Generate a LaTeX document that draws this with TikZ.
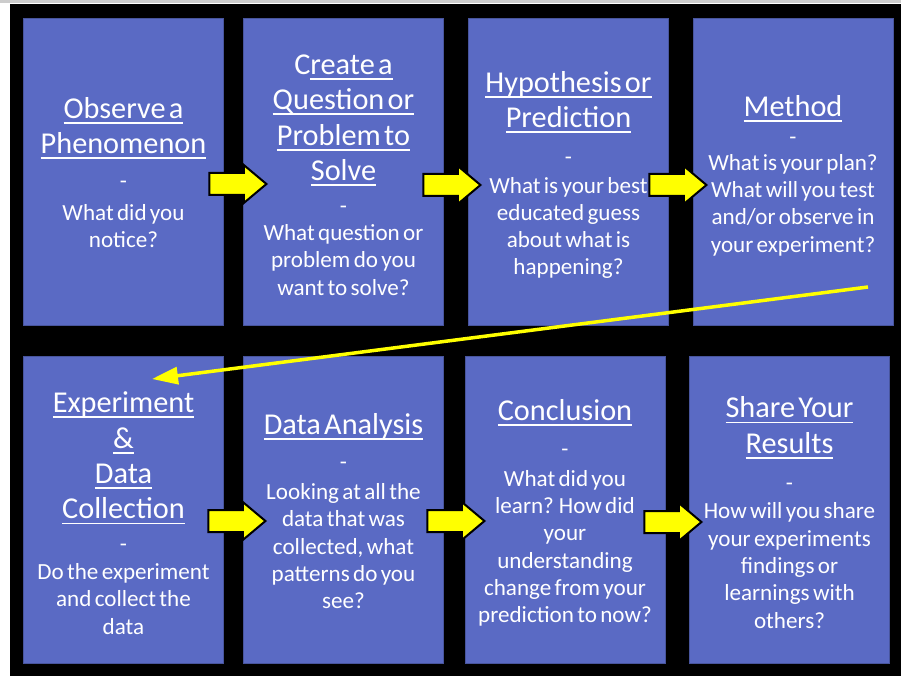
\documentclass[tikz,border=0pt]{standalone}
\usepackage{fontspec}
\setmainfont{Carlito}
\usetikzlibrary{arrows.meta,shapes.arrows}

\definecolor{cardblue}{RGB}{90,106,196}
\definecolor{arrowyellow}{RGB}{255,255,0}

\newcommand{\titlefont}{\fontsize{30.3}{35.4}\selectfont}
\newcommand{\bodyfont}{\fontsize{23.1}{27.3}\selectfont}

% underline at a fixed depth
\newsavebox{\ulinebox}
\newcommand{\ulined}[1]{\leavevmode\sbox{\ulinebox}{#1}\rlap{\rule[-5.5pt]{\wd\ulinebox}{1.8pt}}\usebox{\ulinebox}}

% [gap above dash][gap below dash]{title}{question}
\NewDocumentCommand{\cardtext}{O{8.5pt} O{2.5pt} m m}{%
  {\titlefont #3\par}\vspace{#1}{\bodyfont -\par}\vspace{#2}{\bodyfont #4\par}}

\begin{document}
\begin{tikzpicture}[x=1pt,y=-1pt,
  card/.style={rectangle, fill=cardblue, draw=cardblue!80!black, line width=0.6pt,
    minimum width=200pt, minimum height=307pt, inner sep=0pt},
  cardlabel/.style={inner sep=0pt, text width=190pt, align=center, text=white},
  steparrow/.style={single arrow, fill=arrowyellow, draw=black, line width=2pt,
    minimum height=57pt, inner xsep=0pt, inner ysep=10pt, single arrow head extend=8pt,
    single arrow tip angle=80, anchor=tip},
  looparrow/.style={arrowyellow, line width=3.5pt, -{Triangle[length=26pt,width=17pt]}}]

\useasboundingbox (0,0) rectangle (901,676);

%Background
\fill[white] (0,0) rectangle (901,676);
\fill[black!20] (0,0) rectangle (901,3);
\fill[black] (10,4) rectangle (901,676);

%Top row
\node[card] (observe) at (123.5,171.5) {};
\node[card] (question) at (343.5,171.5) {};
\node[card] (hypothesis) at (568.5,171.5) {};
\node[card] (method) at (793,171.5) {};

\node[cardlabel] (observe text) at ([yshift=-1pt]observe.center)
  {\cardtext[8pt][4.5pt]{\ulined{Observe a}\\\ulined{Phenomenon}}{What did you\\notice?}};
\node[cardlabel] (question text) at ([yshift=-3.5pt]question.center)
  {\cardtext[5.5pt][0pt]{C\ulined{reate a}\\\ulined{Question or}\\\ulined{Problem to}\\\ulined{Solve}}{What question or\\problem do you\\want to solve?}};
\node[cardlabel] (hypothesis text) at ([yshift=-3.5pt]hypothesis.center)
  {\cardtext[9.5pt][1.5pt]{\ulined{Hypothesis or}\\\ulined{Prediction}}{What is your best\\educated guess\\about what is\\happening?}};
\node[cardlabel] (method text) at ([yshift=-4pt]method.center)
  {\cardtext[1pt][-1.5pt]{\ulined{Method}}{What is your plan?\\What will you test\\and/or observe in\\your experiment?}};

%Bottom row
\node[card] (experiment) at (123.5,509.5) {};
\node[card] (analysis) at (343.5,509.5) {};
\node[card] (conclusion) at (565,509.5) {};
\node[card] (share) at (789.5,509.5) {};

\node[cardlabel] (experiment text) at ([yshift=-3.5pt]experiment.center)
  {\cardtext[5.5pt][0.5pt]{\ulined{Experiment}\\\ulined{\&}\\\ulined{Data}\\\ulined{Collection}}{Do the experiment\\and collect the\\data}};
\node[cardlabel] (analysis text) at ([yshift=-1.5pt]analysis.center)
  {\cardtext{\ulined{Data Analysis}}{Looking at all the\\data that was\\collected, what\\patterns do you\\see?}};
\node[cardlabel] (conclusion text) at ([yshift=-3.5pt]conclusion.center)
  {\cardtext{\ulined{Conclusion}}{What did you\\learn? How did\\your\\understanding\\change from your\\prediction to now?}};
\node[cardlabel] (share text) at ([yshift=-3pt]share.center)
  {\cardtext[9.5pt][1.5pt]{\ulined{Share Your}\\\ulined{Results}}{How will you share\\your experiments\\findings or\\learnings with\\others?}};

%Step arrows
\node[steparrow] (stepA) at (268,184) {};
\node[steparrow] (stepB) at (482,185) {};
\node[steparrow] (stepC) at (708,185) {};
\node[steparrow] (stepD) at (267,521) {};
\node[steparrow] (stepE) at (486,521) {};
\node[steparrow] (stepF) at (703,522) {};

%Back to the second row
\coordinate (loopstart) at (868,287);
\coordinate (loopend) at (152,379);
\draw[looparrow] (loopstart) -- (loopend);

\end{tikzpicture}
\end{document}
